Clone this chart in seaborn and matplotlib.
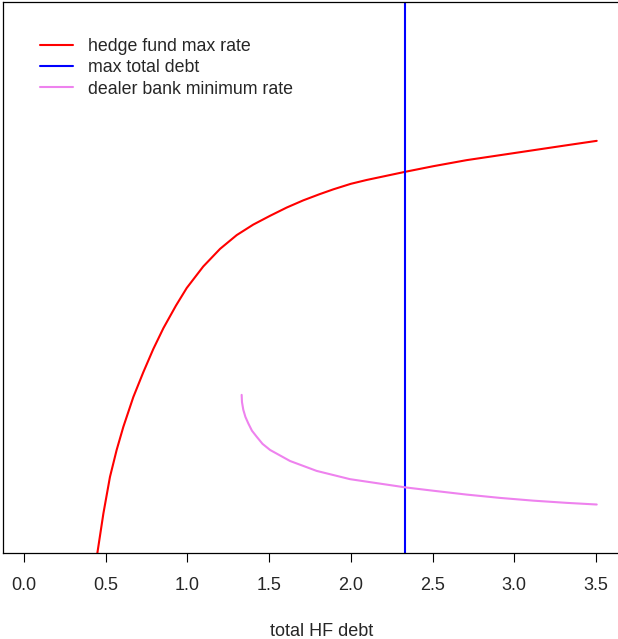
import numpy as np
import pandas as pd
import matplotlib
matplotlib.use('Agg')
import matplotlib.pyplot as plt
import seaborn as sns

# hedge fund max rate curve (y in arbitrary units)
hf_debt = [0.440, 0.449, 0.486, 0.526, 0.567, 0.608, 0.669, 0.730, 0.791, 0.853,
           0.930, 0.996, 1.097, 1.200, 1.302, 1.403, 1.506, 1.608, 1.709, 1.807,
           1.893, 2.000, 2.097, 2.336, 2.505, 2.709, 2.913, 3.117, 3.321, 3.505]
hf_rate = [-0.015, 0.000, 0.072, 0.138, 0.187, 0.229, 0.283, 0.328, 0.370, 0.408,
           0.449, 0.481, 0.520, 0.552, 0.577, 0.596, 0.612, 0.627, 0.640, 0.651,
           0.660, 0.670, 0.677, 0.692, 0.702, 0.713, 0.722, 0.731, 0.740, 0.748]

# dealer bank minimum rate curve
db_debt = [1.332, 1.334, 1.342, 1.355, 1.373, 1.395, 1.424, 1.460, 1.506, 1.628,
           1.791, 1.995, 2.336, 2.505, 2.709, 2.913, 3.117, 3.321, 3.505]
db_rate = [0.287, 0.274, 0.260, 0.247, 0.235, 0.222, 0.211, 0.198, 0.187, 0.167,
           0.149, 0.134, 0.119, 0.113, 0.106, 0.100, 0.095, 0.091, 0.088]

max_total_debt = 2.333
xticks = [0.0, 0.5, 1.0, 1.5, 2.0, 2.5, 3.0, 3.5]

sns.set_style("white")
plt.rcParams['font.family'] = ['Liberation Sans', 'DejaVu Sans']

fig = plt.figure(figsize=(6.18, 6.39), dpi=100)
# axes run past the right edge of the figure, as in the original
ax = fig.add_axes([3 / 618, (639 - 553) / 639, 637 / 618, 551 / 639])

hf = pd.DataFrame({'debt': hf_debt, 'rate': hf_rate})
db = pd.DataFrame({'debt': db_debt, 'rate': db_rate})

sns.lineplot(data=hf, x='debt', y='rate', color='#FF0000', lw=1.5, sort=False,
             ax=ax, label='hedge fund max rate')
ax.axvline(max_total_debt, color='#0000FF', lw=1.5, label='max total debt')
sns.lineplot(data=db, x='debt', y='rate', color='#EE82EE', lw=1.5, sort=False,
             ax=ax, label='dealer bank minimum rate')

ax.set_xlim((3 - 24) / 163.4, (640 - 24) / 163.4)
ax.set_ylim(0, 1)
ax.set_xticks(xticks)
ax.set_xticklabels(['{:.1f}'.format(t) for t in xticks], fontsize=13)
ax.set_yticks([])
ax.tick_params(axis='x', direction='out', length=6.5, width=0.8, color='black',
               pad=11, bottom=True)
ax.set_xlabel('total HF debt', fontsize=13, labelpad=21)
ax.set_ylabel('')

for side in ['left', 'top', 'bottom']:
    ax.spines[side].set_visible(True)
    ax.spines[side].set_color('black')
    ax.spines[side].set_linewidth(0.9)
ax.spines['right'].set_visible(False)

leg = ax.legend(loc='upper left', bbox_to_anchor=(37 / 637, 1 - 36 / 551),
                frameon=False, fontsize=12.8, handlelength=1.85, handletextpad=0.85,
                labelspacing=0.24, borderpad=0, borderaxespad=0)

fig.savefig('out.png', dpi=100)
